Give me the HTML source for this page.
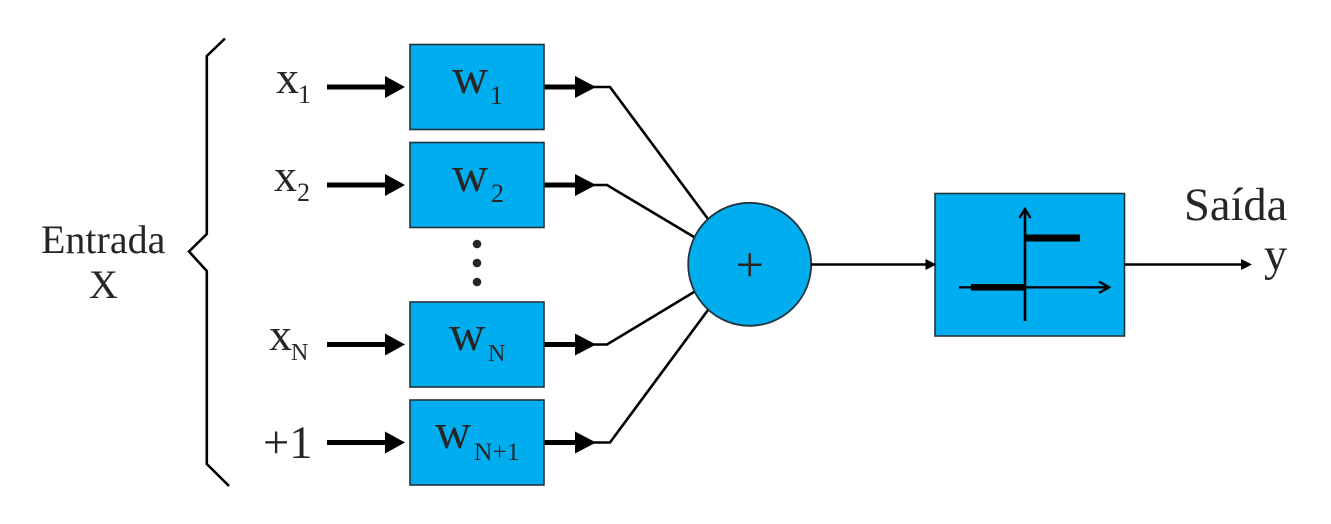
<!DOCTYPE html>
<html>
<head>
<meta charset="utf-8">
<style>
html,body{margin:0;padding:0;background:#fff;width:1331px;height:524px;overflow:hidden}
svg{display:block}
text{font-family:"Liberation Serif",serif;fill:#262626}
.w{font-size:50px}.x{font-size:46px}.s{font-size:26px}.n{font-size:24px}.l{font-size:40px}.r{font-size:46.5px}
.box{fill:#00aeef;stroke:#22333d;stroke-width:1.6}
.thin{fill:none;stroke:#000;stroke-width:2.6;stroke-linejoin:miter}
</style>
</head>
<body>
<svg width="1331" height="524" viewBox="0 0 1331 524" xmlns="http://www.w3.org/2000/svg">
<rect width="1331" height="524" fill="#fff"/>

<!-- brace -->
<polyline class="thin" points="225,38.5 206.8,56 206.8,234 189,251.5 206.8,271 206.8,464 229,486"/>

<!-- input arrows -->
<g fill="#000">
<rect x="327" y="84.5" width="60" height="5"/><polygon points="385,76 405,87 385,98"/>
<rect x="327" y="182.5" width="60" height="5"/><polygon points="385,174 405,185 385,196"/>
<rect x="327" y="342" width="60" height="5"/><polygon points="385,333.5 405,344.5 385,355.5"/>
<rect x="327" y="440" width="60" height="5"/><polygon points="385,431.5 405,442.5 385,453.5"/>
</g>

<!-- connectors -->
<polyline class="thin" points="590,87 610,87 708,219"/>
<polyline class="thin" points="590,185 607,185 694,237"/>
<polyline class="thin" points="590,344.5 607,344.5 694,292"/>
<polyline class="thin" points="590,442.5 610,442.5 708,310"/>

<!-- output arrows -->
<g fill="#000">
<rect x="544" y="84.5" width="33" height="5"/><polygon points="575,76 596,87 575,98"/>
<rect x="544" y="182.5" width="33" height="5"/><polygon points="575,174 596,185 575,196"/>
<rect x="544" y="342" width="33" height="5"/><polygon points="575,333.5 596,344.5 575,355.5"/>
<rect x="544" y="440" width="33" height="5"/><polygon points="575,431.5 596,442.5 575,453.5"/>
</g>

<!-- weight boxes -->
<rect class="box" x="410" y="44.5" width="134" height="85"/>
<rect class="box" x="410" y="142.5" width="134" height="85"/>
<rect class="box" x="410" y="302" width="134" height="85"/>
<rect class="box" x="410" y="400" width="134" height="85"/>

<!-- dots -->
<g fill="#262626">
<circle cx="477" cy="244" r="4.3"/><circle cx="477" cy="263" r="4.3"/><circle cx="477" cy="282" r="4.3"/>
</g>

<!-- labels -->
<text class="l" x="41" y="253">Entrada</text>
<text class="l" x="89" y="298">X</text>

<text class="x" x="276" y="93">x</text><text class="s" x="298" y="103">1</text>
<text class="x" x="274" y="191">x</text><text class="s" x="297" y="201">2</text>
<text class="x" x="269" y="350">x</text><text class="n" x="291" y="360">N</text>
<text class="r" x="263" y="458">+1</text>

<text class="w" x="452" y="93">w</text><text class="s" x="490" y="104">1</text>
<text class="w" x="452" y="191">w</text><text class="s" x="491" y="202">2</text>
<text class="w" x="449" y="350">w</text><text class="n" x="488" y="361">N</text>
<text class="w" x="435" y="448">w</text><text class="s" x="474" y="460" style="font-size:25.5px">N+1</text>

<!-- sum circle -->
<ellipse cx="749.7" cy="264.3" rx="61.5" ry="61.5" fill="#00aeef" stroke="#22333d" stroke-width="1.8"/>
<text x="749.7" y="281.4" text-anchor="middle" font-size="50">+</text>

<!-- sum to step -->
<line x1="811" y1="264.5" x2="927" y2="264.5" stroke="#000" stroke-width="2.6"/>

<!-- step box -->
<rect class="box" x="935" y="193.5" width="189.5" height="142.5"/>
<polygon points="925.5,259 936.5,264.5 925.5,270" fill="#000"/>

<g stroke="#000" fill="none">
<line x1="1025" y1="209" x2="1025" y2="321" stroke-width="2.6"/>
<polyline points="1019.5,218 1025,209 1030.5,218" stroke-width="2.4"/>
<line x1="959" y1="287.3" x2="1109" y2="287.3" stroke-width="2.4"/>
<polyline points="1099,281.5 1109,287.3 1099,293" stroke-width="2.4"/>
</g>
<rect x="1025" y="234.5" width="55" height="7" fill="#000"/>
<rect x="971" y="284" width="55" height="6.6" fill="#000"/>

<!-- output -->
<line x1="1124.5" y1="264.5" x2="1243" y2="264.5" stroke="#000" stroke-width="2.6"/>
<polygon points="1241,259 1252,264.5 1241,270" fill="#000"/>
<text class="r" x="1184" y="220">Saída</text>
<text class="r" x="1264" y="270">y</text>
</svg>
</body>
</html>
